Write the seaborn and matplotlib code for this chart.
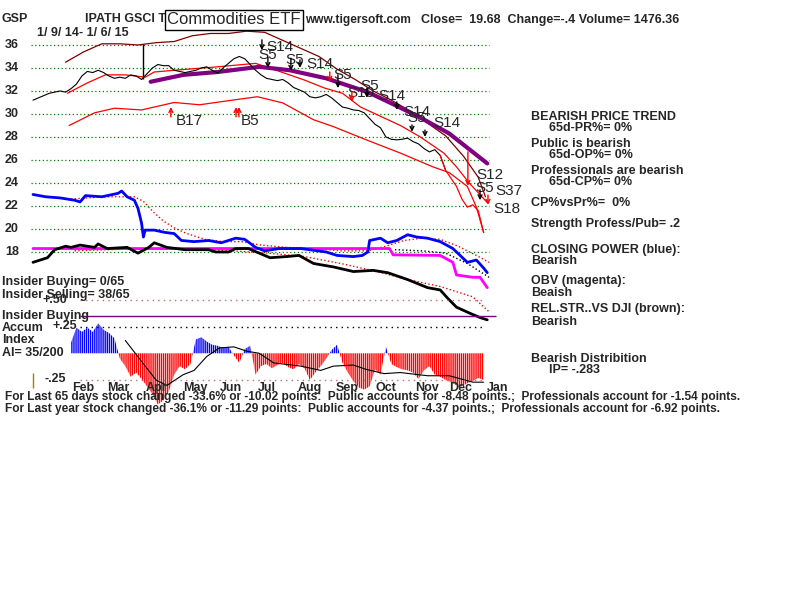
import numpy as np
import matplotlib
matplotlib.use('Agg')
import matplotlib.pyplot as plt
import seaborn as sns

sns.set_style('white')
plt.rcParams['font.family'] = ['Liberation Sans', 'DejaVu Sans']
plt.rcParams['hatch.linewidth'] = 1.0

# price, every 3rd trading day from 1/9/14
price_days = np.arange(0, 250, 3)
price = [31.2, 31.4, 31.6, 31.8, 31.9, 32.0, 31.9, 32.2, 32.6, 33.3,
         33.7, 33.6, 33.8, 33.6, 33.3, 33.1, 33.2, 33.1, 33.4, 33.3,
         33.0, 33.5, 34.0, 34.3, 34.2, 34.2, 33.8, 33.7, 33.6, 33.7,
         33.8, 34.0, 34.1, 33.8, 33.55, 34.0, 34.4, 34.8, 35.0, 34.8,
         34.3, 33.8, 33.4, 33.1, 33.0, 32.9, 33.0, 32.7, 32.3, 32.1,
         31.9, 31.5, 31.4, 31.5, 31.7, 31.4, 31.0, 30.6, 30.5, 30.35,
         30.3, 30.1, 29.6, 29.1, 28.8, 28.0, 27.8, 27.75, 27.8, 27.9,
         27.6, 27.4, 27.0, 26.7, 26.9, 26.4, 25.1, 24.4, 23.7, 22.6,
         21.9, 22.1, 21.6, 19.68]
spike_day, spike_low, spike_high = 61, 33.0, 36.1

upper_days = [18, 28, 38, 48, 58, 68, 78, 88, 98, 108, 118, 128, 138, 148,
              158, 168, 178, 188, 198, 208, 218, 228, 238, 246, 250]
upper_band = [34.5, 35.4, 36.1, 36.1, 36.0, 36.2, 36.3, 36.8, 37.0, 37.0,
              37.2, 37.1, 36.4, 35.7, 35.0, 33.9, 33.0, 32.0, 31.2, 30.3,
              29.2, 28.1, 26.3, 24.5, 22.8]
mid_days = [19, 30, 40, 51, 62, 67, 78, 102, 123, 139, 150, 161, 171, 181,
            192, 203, 214, 227, 234, 241, 251]
mid_band = [31.8, 32.7, 33.4, 33.4, 33.2, 33.65, 33.8, 34.1, 34.4, 33.55,
            32.95, 32.26, 31.8, 30.6, 29.8, 29.0, 28.0, 26.6, 25.4, 24.0, 22.3]
low_days = [20, 34, 45, 60, 78, 92, 110, 124, 138, 155, 166, 185, 203, 221,
            230, 240, 245, 249]
low_band = [29.0, 30.1, 30.5, 30.35, 31.0, 30.8, 31.2, 31.5, 30.96, 29.5,
            28.9, 27.7, 26.6, 25.4, 24.9, 23.7, 21.9, 19.7]
ma_days = [65, 83, 102, 125, 142, 162, 185, 201, 215, 230, 251]
ma_line = [32.8, 33.4, 33.65, 34.1, 33.8, 33.1, 31.9, 30.7, 29.6, 28.3, 25.7]

# indicator lines (drawn on the price scale, as in the original)
cp_days = [0, 7, 15, 23, 26, 29, 38, 47, 49, 52, 56, 58, 60, 61, 62, 67, 73,
           78, 82, 89, 97, 104, 112, 117, 123, 128, 136, 148, 162, 168, 177,
           182, 185, 186, 192, 196, 201, 207, 212, 218, 225, 232, 240, 245,
           249, 251]
cp = [23.0, 22.8, 22.7, 22.5, 22.35, 22.9, 22.8, 23.1, 23.3, 22.8, 22.5,
      21.8, 20.5, 19.3, 19.9, 19.9, 19.7, 19.6, 19.0, 18.9, 19.0, 18.8, 19.2,
      19.1, 18.4, 18.1, 18.3, 18.3, 18.0, 17.7, 17.6, 17.7, 18.0, 19.0, 19.2,
      18.8, 19.0, 19.5, 19.3, 19.2, 18.9, 18.3, 17.1, 17.3, 16.6, 16.2]
cp_ma_days = [21, 30, 40, 50, 56, 61, 67, 72, 78, 85, 95, 105, 115, 126, 140,
              155, 170, 185, 195, 205, 215, 225, 235, 245, 252]
cp_ma = [22.6, 22.7, 22.8, 22.8, 22.8, 22.4, 21.4, 20.7, 20.1, 19.6, 19.1,
         18.9, 18.9, 18.6, 18.4, 18.3, 18.1, 18.1, 18.5, 19.0, 19.2, 19.1,
         18.5, 17.7, 17.1]
obv_days = [0, 100, 197, 199, 225, 232, 234, 243, 247, 251]
obv = [18.3, 18.3, 18.3, 17.75, 17.7, 17.1, 16.0, 15.8, 15.8, 14.9]
obv_ma_days = [200, 215, 228, 240, 252]
obv_ma = [18.2, 18.1, 17.9, 17.0, 15.8]
rs_days = [0, 8, 12, 18, 21, 26, 34, 36, 41, 52, 58, 64, 67, 74, 84, 97, 101,
           108, 112, 119, 125, 131, 140, 147, 155, 166, 177, 188, 196, 207,
           218, 225, 229, 234, 241, 247, 251]
rs = [17.1, 17.5, 18.2, 18.5, 18.4, 18.6, 18.4, 18.7, 18.3, 18.4, 17.9, 18.4,
      18.8, 18.4, 18.2, 18.2, 18.0, 18.0, 18.3, 18.3, 17.9, 17.5, 17.6, 17.7,
      17.0, 16.7, 16.3, 16.4, 16.2, 15.6, 14.9, 14.7, 14.0, 13.2, 12.7, 12.3,
      12.1]
rs_ma_days = [23, 60, 100, 130, 150, 170, 190, 207, 225, 243, 252]
rs_ma = [18.1, 18.3, 18.2, 17.9, 17.6, 17.0, 16.3, 15.6, 15.0, 14.1, 12.8]

# accumulation index
ai_days = np.arange(21, 250, 3)
ai = np.array([0.10, 0.24, 0.20, 0.24, 0.20, 0.28, 0.22, 0.19, 0.14,
               -0.05, -0.12, -0.22, -0.18, -0.24, -0.31, -0.38, -0.48, -0.44,
               -0.36, -0.20, -0.12, -0.15, -0.10,
               0.13, 0.15, 0.11, 0.08, 0.07, 0.05, 0.06, -0.02, -0.09, 0.04,
               0.07,
               -0.20, -0.12, -0.10, -0.14, -0.11, -0.09, -0.13, -0.15, -0.10,
               -0.14, -0.25, -0.18, -0.12, -0.05,
               0.03, 0.08, -0.09, -0.18, -0.26, -0.32, -0.34, -0.31, -0.15,
               -0.20, 0.06,
               -0.10, -0.13, -0.15, -0.16, -0.18, -0.24, -0.16, -0.12, -0.20,
               -0.22, -0.25, -0.27, -0.30, -0.31, -0.28, -0.26, -0.23, -0.25])
ai_ma_days = [51, 68, 74, 83, 89, 96, 103, 111, 118, 125, 133, 148, 159, 166,
              177, 184, 194, 203, 218, 230, 243, 249]
ai_ma = [0.12, -0.25, -0.30, -0.20, -0.16, -0.03, 0.05, 0.06, 0.02, 0.0,
         -0.09, -0.12, -0.16, -0.12, -0.11, -0.15, -0.19, -0.18, -0.21, -0.21,
         -0.27, -0.27]

price_levels = [36, 34, 32, 30, 28, 26, 24, 22, 20, 18]
months = ['Feb', 'Mar', 'Apr', 'May', 'Jun', 'Jul', 'Aug', 'Sep', 'Oct',
          'Nov', 'Dec', 'Jan']
month_days = [21.5, 41, 62, 83, 103, 124, 146, 167, 189, 211, 230, 251]

# signals: label, day, price of label; arrows: day, from, to, colour
sig_labels = ['S14', 'S5', 'S5', 'S14', 'S5', 'S10', 'S5', 'S14', 'S14', 'S5',
              'S14', 'S12', 'S5', 'S37', 'S18', 'B17', 'B5']
sig_day = [128.7, 124.3, 139.2, 150.8, 165.7, 173.5, 180.7, 190.6, 204.4,
           206.6, 221, 244.8, 244.2, 255.2, 254.1, 79, 114.9]
sig_price = [35.8, 35.1, 34.7, 34.35, 33.4, 31.8, 32.4, 31.55, 30.15, 29.65,
             29.2, 24.7, 23.55, 23.3, 21.7, 29.4, 29.4]
arr_day = [126.5, 129.8, 142.5, 147.5, 164, 168.5, 176.2, 184.5, 201, 209.4,
           216.6, 240.3, 247, 251.4, 76.2, 112.2, 113.8]
arr_from = [36.45, 34.95, 34.85, 34.7, 33.65, 33.4, 31.9, 32.25, 31.05, 29.05,
            28.6, 26.7, 23.4, 22.95, 29.75, 29.75, 29.75]
arr_to = [35.55, 34.0, 33.75, 34.0, 32.8, 32.25, 31.05, 31.4, 30.35, 28.45,
          28.0, 23.75, 22.5, 22.1, 30.6, 30.6, 30.6]
arr_col = ['black', 'black', 'black', 'black', 'red', 'black', 'red', 'black',
           'black', 'black', 'black', 'red', 'black', 'red', 'red', 'red', 'red']

fig = plt.figure(figsize=(8, 6), dpi=100)
ax = fig.add_axes([0, 0, 1, 1])
ax.set_xlim(-18.23, 423.8)
ax.set_ylim(-12.26, 39.91)
ax.axis('off')
ax2 = ax.twinx()
ax2.set_ylim(-2.306, 3.302)
ax2.axis('off')

ax.hlines(price_levels, -1, 252, colors='#008000', linestyles=(0, (1, 2)), lw=0.9)
for lv in price_levels:
    ax.text(-15.5, lv, str(lv), fontsize=9, fontweight='bold', va='center')

def line(x, y, a=ax, **kw):
    sns.lineplot(x=x, y=y, ax=a, estimator=None, sort=False, legend=False, **kw)

line(upper_days, upper_band, color='#800000', lw=0.9)
line(mid_days, mid_band, color='red', lw=0.9)
line(low_days, low_band, color='red', lw=0.9)
line(ma_days, ma_line, color='#800080', lw=3)
line(price_days[:77], price[:77], color='black', lw=0.8)
line(price_days[75:], price[75:], color='red', lw=0.9)
ax.vlines(spike_day, spike_low, spike_high, color='black', lw=1)

line(cp_ma_days, cp_ma, color='red', lw=1, linestyle=':')
line(rs_ma_days, rs_ma, color='red', lw=1, linestyle=':')
line(obv_ma_days, obv_ma, color='black', lw=1, linestyle=':')
line(obv_days, obv, color='magenta', lw=2)
line(cp_days, cp, color='blue', lw=2)
line(rs_days, rs, color='black', lw=2)

for lab, d, p in zip(sig_labels, sig_day, sig_price):
    ax.text(d, p, lab, fontsize=11, va='center', ha='left')
for d, p0, p1, c in zip(arr_day, arr_from, arr_to, arr_col):
    ax.annotate('', xy=(d, p1), xytext=(d, p0),
                arrowprops=dict(arrowstyle='->', color=c, lw=1, shrinkA=0,
                                shrinkB=0, mutation_scale=7))

# accumulation index panel
ax2.fill_between(ai_days, ai, 0, where=ai >= 0, interpolate=True,
                 facecolor='none', edgecolor='blue', hatch='||||||||', lw=0)
ax2.fill_between(ai_days, ai, 0, where=ai <= 0, interpolate=True,
                 facecolor='none', edgecolor='red', hatch='||||||||', lw=0)
line(ai_ma_days, ai_ma, a=ax2, color='black', lw=0.8)
ax2.hlines([0.5, -0.25], 26, 250, colors='#c07070', linestyles=(0, (1, 3)), lw=1)
ax2.hlines(0.25, 26, 250, colors='black', linestyles=(0, (1, 3)), lw=1)
ax2.hlines(0.35, 26, 256, colors='#800080', lw=1)
ax2.vlines(0, -0.32, -0.18, colors='#a08000', lw=1)
for m, d in zip(months, month_days):
    ax2.text(d, -0.32, m, fontsize=9, fontweight='bold', va='center', ha='left')
ax2.text(5.5, 0.5, '+.50', fontsize=9, fontweight='bold', va='center')
ax2.text(11, 0.255, '+.25', fontsize=9, fontweight='bold', va='center')
ax2.text(6.5, -0.245, '-.25', fontsize=9, fontweight='bold', va='center')

def ftxt(x, y, s, **kw):
    kw.setdefault('fontsize', 9)
    kw.setdefault('fontweight', 'bold')
    fig.text(x / 800, 1 - y / 600, s, va='center', ha='left', **kw)

ftxt(2, 19, 'GSP')
ftxt(85, 19, 'IPATH GSCI T')
fig.text(234 / 800, 1 - 20 / 600, 'Commodities ETF', fontsize=12, ha='center',
         va='center', bbox=dict(boxstyle='square,pad=0.15', fc='white', ec='black', lw=1))
ftxt(305, 20, 'www.tigersoft.com', fontsize=8.6)
ftxt(421, 20, 'Close=  19.68  Change=-.4 Volume= 1476.36')
ftxt(37, 33, '1/ 9/ 14- 1/ 6/ 15')

right = [(531, 117, 'BEARISH PRICE TREND'), (549, 128, '65d-PR%= 0%'),
         (531, 144, 'Public is bearish'), (549, 155, '65d-OP%= 0%'),
         (531, 171, 'Professionals are bearish'), (549, 182, '65d-CP%= 0%'),
         (531, 203, 'CP%vsPr%=  0%'), (531, 224, 'Strength Profess/Pub= .2'),
         (531, 250, 'CLOSING POWER (blue):'), (531, 261, 'Bearish'),
         (531, 281, 'OBV (magenta):'), (531, 293, 'Beaish'),
         (531, 309, 'REL.STR..VS DJI (brown):'), (531, 322, 'Bearish'),
         (531, 359, 'Bearish Distribition'), (549, 370, 'IP= -.283')]
for x, y, s in right:
    ftxt(x, y, s)

left = [(2, 282, 'Insider Buying= 0/65'), (2, 295, 'Insider Selling= 38/65'),
        (2, 316, 'Insider Buying'), (2, 328, 'Accum'), (2, 340, 'Index'),
        (2, 353, 'AI= 35/200')]
for x, y, s in left:
    ftxt(x, y, s)

ftxt(5, 397, 'For Last 65 days stock changed -33.6% or -10.02 points:  Public accounts '
     'for -8.48 points.;  Professionals account for -1.54 points.', fontsize=8.6)
ftxt(5, 409, 'For Last year stock changed -36.1% or -11.29 points:  Public accounts '
     'for -4.37 points.;  Professionals account for -6.92 points.', fontsize=8.6)

fig.savefig('out.png', dpi=100)
